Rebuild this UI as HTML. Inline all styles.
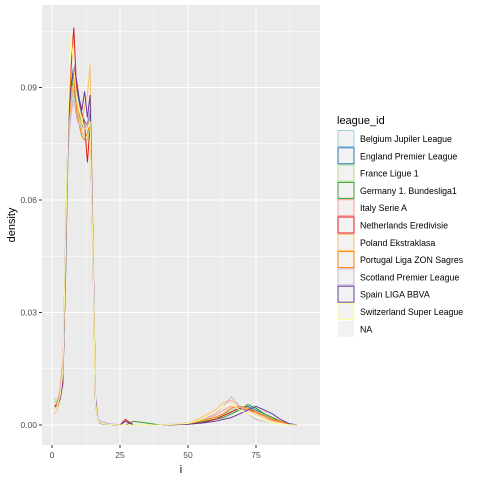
<!DOCTYPE html>
<html><head><meta charset="utf-8"><style>
body{margin:0;background:#fff;font-family:"Liberation Sans",Arial,sans-serif}
svg text{font-family:"Liberation Sans",Arial,sans-serif}
</style></head><body>
<svg id="c" width="480" height="480" xmlns="http://www.w3.org/2000/svg">
<rect x="42" y="5" width="278" height="440" fill="#EBEBEB"/>
<g id="grid"></g><g id="lines"></g><g id="axes"></g><g id="legend"></g>
</svg>
<script>
const xs=[1,2,3,4,5,6,7,8,9,10,11,12,13,14,15,16,17,18,20,25,27,30,40,50,55,60,63,66,69,72,75,78,81,84,87,90];
const leagues=["Belgium Jupiler League","England Premier League","France Ligue 1","Germany 1. Bundesliga1","Italy Serie A","Netherlands Eredivisie","Poland Ekstraklasa","Portugal Liga ZON Sagres","Scotland Premier League","Spain LIGA BBVA","Switzerland Super League"];
const colors=["#A6CEE3","#1F78B4","#B2DF8A","#33A02C","#FB9A99","#E31A1C","#FDBF6F","#FF7F00","#CAB2D6","#6A3D9A","#FFFF99"];
const s0=[0.007,0.006,0.008,0.012,0.045,0.078,0.088,0.092,0.087,0.085,0.082,0.080,0.079,0.083,0.048,0.007,0.001,0.0005,0.0003,0,0,0,0,0.0003,0.001,0.002,0.003,0.004,0.0045,0.005,0.0035,0.002,0.0015,0.001,0.0003,0];
const s1=[0.005,0.006,0.007,0.013,0.040,0.080,0.090,0.094,0.090,0.086,0.083,0.081,0.080,0.084,0.050,0.006,0.001,0.0004,0.0002,0,0,0,0,0.0003,0.0008,0.0015,0.0025,0.0035,0.0045,0.005,0.004,0.003,0.002,0.001,0.0003,0];
const s2=[0.006,0.007,0.009,0.014,0.042,0.076,0.084,0.088,0.086,0.082,0.078,0.077,0.076,0.080,0.047,0.007,0.001,0.0005,0.0002,0,0,0,0,0.0003,0.001,0.002,0.003,0.0035,0.004,0.0045,0.0035,0.002,0.0015,0.001,0.0003,0];
const s3=[0.005,0.006,0.007,0.012,0.050,0.082,0.092,0.090,0.085,0.083,0.080,0.079,0.079,0.082,0.049,0.006,0.001,0.0004,0.0002,0,0,0.001,0,0.0002,0.0008,0.0015,0.002,0.003,0.004,0.0055,0.0045,0.003,0.002,0.001,0.0003,0];
const s4=[0.004,0.006,0.010,0.018,0.048,0.074,0.086,0.090,0.088,0.084,0.081,0.080,0.080,0.082,0.046,0.007,0.001,0.0005,0.0003,0,0,0,0,0.0005,0.0015,0.0025,0.004,0.005,0.0045,0.004,0.003,0.002,0.0012,0.0008,0.0002,0];
const s5=[0.005,0.005,0.007,0.012,0.043,0.078,0.095,0.106,0.090,0.087,0.083,0.080,0.070,0.080,0.050,0.006,0.001,0.0004,0.0002,0,0.0015,0,0,0.0002,0.0006,0.0015,0.0025,0.0035,0.0045,0.004,0.0035,0.0025,0.0015,0.001,0.0003,0];
const s6=[0.003,0.004,0.007,0.014,0.044,0.077,0.087,0.091,0.086,0.082,0.080,0.085,0.088,0.096,0.052,0.007,0.001,0.0005,0.0003,0,0,0,0,0.0005,0.002,0.004,0.006,0.0065,0.005,0.004,0.003,0.002,0.001,0.0006,0.0002,0];
const s7=[0.005,0.006,0.008,0.013,0.046,0.080,0.094,0.093,0.084,0.080,0.077,0.076,0.078,0.080,0.050,0.007,0.001,0.0005,0.0002,0,0,0,0,0.0003,0.0012,0.002,0.003,0.0045,0.005,0.0045,0.0035,0.0025,0.0015,0.001,0.0003,0];
const s8=[0.004,0.005,0.008,0.015,0.045,0.075,0.083,0.087,0.082,0.080,0.079,0.080,0.081,0.084,0.048,0.008,0.0015,0.001,0.0005,0,0,0,0,0.0004,0.0015,0.003,0.005,0.0075,0.005,0.003,0.0015,0.001,0.0006,0.0003,0.0001,0];
const s9=[0.005,0.005,0.007,0.011,0.042,0.080,0.090,0.096,0.092,0.087,0.084,0.089,0.082,0.088,0.052,0.007,0.001,0.0004,0.0002,0,0.001,0,0,0.0002,0.0005,0.001,0.0015,0.002,0.003,0.004,0.005,0.004,0.003,0.0015,0.0004,0];
const s10=[0.004,0.005,0.008,0.014,0.047,0.084,0.104,0.095,0.088,0.084,0.081,0.079,0.079,0.081,0.049,0.006,0.001,0.0005,0.0002,0,0,0,0,0.0004,0.0015,0.0035,0.005,0.0055,0.004,0.003,0.002,0.0012,0.0006,0.0003,0.0001,0];
const series=[s0,s1,s2,s3,s4,s5,s6,s7,s8,s9,s10];
const xTicks=[0,25,50,75];
const yTicks=[0,0.03,0.06,0.09];
const NS="http://www.w3.org/2000/svg";
const X=v=>52+v*2.72;
const Y=v=>425-v*3750;
function mk(t,a,p){const e=document.createElementNS(NS,t);for(const k in a)e.setAttribute(k,a[k]);p.appendChild(e);return e;}
const g=document.getElementById('grid');
for(let i=0;i<yTicks.length;i++){const v=yTicks[i];
 const mn=mk('line',{x1:42,x2:320,y1:Y(v+0.015),y2:Y(v+0.015),stroke:'#fff','stroke-width':0.5},g);
 
 const l=mk('line',{x1:42,x2:320,y1:Y(v),y2:Y(v),stroke:'#fff','stroke-width':1},g);
 }
for(let i=0;i<xTicks.length;i++){const v=xTicks[i];
 const mn=mk('line',{y1:5,y2:445,x1:X(v+12.5),x2:X(v+12.5),stroke:'#fff','stroke-width':0.5},g);
 
 const l=mk('line',{y1:5,y2:445,x1:X(v),x2:X(v),stroke:'#fff','stroke-width':1},g);
 }
const lg=document.getElementById('lines');
for(let s=0;s<series.length;s++){
 const pts=xs.map((x,i)=>X(x).toFixed(1)+','+Y(series[s][i]).toFixed(1)).join(' ');
 const p=mk('polyline',{points:pts,fill:'none',stroke:colors[s],'stroke-width':1},lg);
 
 }
const ax=document.getElementById('axes');
for(let i=0;i<yTicks.length;i++){const v=yTicks[i];
 const t=mk('line',{x1:39,x2:42,y1:Y(v),y2:Y(v),stroke:'#333'},ax);
 
 const tx=mk('text',{x:37,y:Y(v)+3,'text-anchor':'end','font-size':8.5,fill:'#4D4D4D'},ax);tx.textContent=v.toFixed(2);
 }
for(let i=0;i<xTicks.length;i++){const v=xTicks[i];
 const t=mk('line',{x1:X(v),x2:X(v),y1:445,y2:448,stroke:'#333'},ax);
 
 const tx=mk('text',{x:X(v),y:458,'text-anchor':'middle','font-size':8.5,fill:'#4D4D4D'},ax);tx.textContent=v;
 }
let t=mk('text',{x:181,y:473,'text-anchor':'middle','font-size':11,fill:'#000'},ax);t.textContent='i';

t=mk('text',{x:15,y:225,'text-anchor':'middle','font-size':11,fill:'#000',transform:'rotate(-90 15 225)'},ax);t.textContent='density';

const le=document.getElementById('legend');
t=mk('text',{x:337,y:124,'font-size':11,fill:'#000'},le);t.textContent='league_id';

const names=leagues.concat(['NA']);
for(let i=0;i<names.length;i++){const y=130+i*17.3;
 const r=mk('rect',{x:338,y:y+0.5,width:16,height:16,fill:'#F2F2F2',stroke:i<11?colors[i]:'none','stroke-width':1},le);
 
 const tx=mk('text',{x:360,y:y+12,'font-size':8.8,fill:'#000'},le);tx.textContent=names[i];
 }
</script>
</body></html>
